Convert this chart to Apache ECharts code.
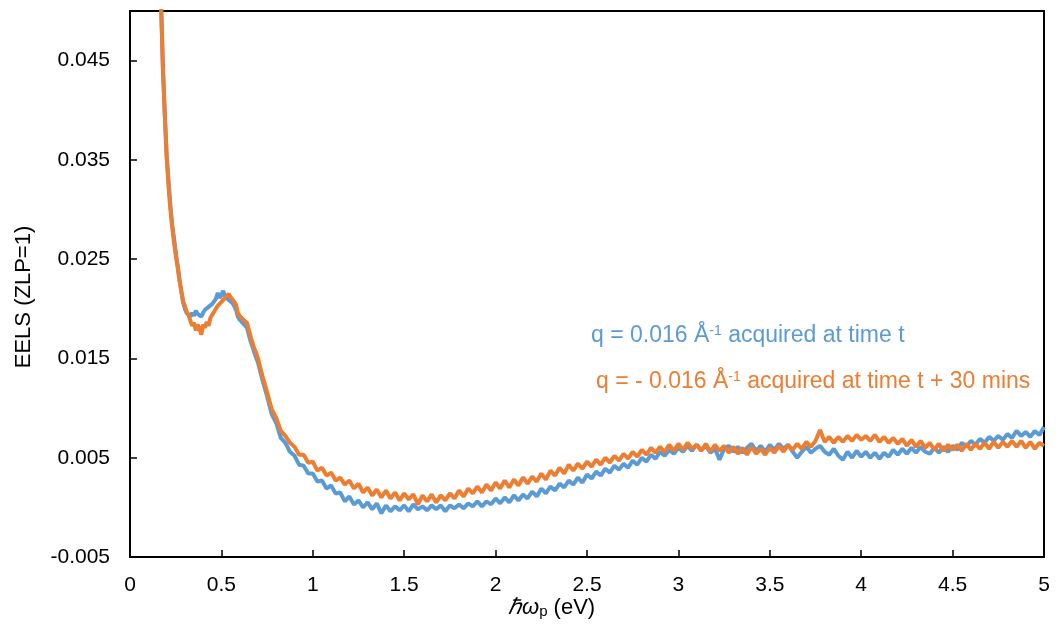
<!DOCTYPE html>
<html>
<head>
<meta charset="utf-8">
<script src="https://cdn.jsdelivr.net/npm/echarts@6/dist/echarts.min.js"></script>
<style>
  html, body { margin: 0; padding: 0; background: #fff; }
  #chart { width: 1059px; height: 635px; }
</style>
</head>
<body>
<div id="chart"></div>
<script>
// Energy loss (eV): 0.01 eV steps over the low-loss peak, 0.025 eV afterwards
const energy = [
  0.16, 0.17, 0.18, 0.19, 0.20, 0.21, 0.22, 0.23, 0.24, 0.25, 0.26, 0.27, 0.28, 0.29, 0.30,
  0.31, 0.32, 0.33, 0.34, 0.35, 0.36, 0.37, 0.38, 0.39, 0.40, 0.41, 0.42, 0.43, 0.44, 0.45,
  0.46, 0.47, 0.48, 0.49, 0.50, 0.51, 0.52, 0.53, 0.54, 0.55, 0.56, 0.57, 0.58, 0.59, 0.60,
  0.61, 0.62, 0.63, 0.64, 0.65, 0.66, 0.67, 0.68, 0.69, 0.70,
  0.725, 0.75, 0.775, 0.8, 0.825, 0.85, 0.875, 0.9, 0.925, 0.95, 0.975, 1.0,
  1.025, 1.05, 1.075, 1.1, 1.125, 1.15, 1.175, 1.2, 1.225, 1.25, 1.275, 1.3,
  1.325, 1.35, 1.375, 1.4, 1.425, 1.45, 1.475, 1.5, 1.525, 1.55, 1.575, 1.6,
  1.625, 1.65, 1.675, 1.7, 1.725, 1.75, 1.775, 1.8, 1.825, 1.85, 1.875, 1.9,
  1.925, 1.95, 1.975, 2.0, 2.025, 2.05, 2.075, 2.1, 2.125, 2.15, 2.175, 2.2,
  2.225, 2.25, 2.275, 2.3, 2.325, 2.35, 2.375, 2.4, 2.425, 2.45, 2.475, 2.5,
  2.525, 2.55, 2.575, 2.6, 2.625, 2.65, 2.675, 2.7, 2.725, 2.75, 2.775, 2.8,
  2.825, 2.85, 2.875, 2.9, 2.925, 2.95, 2.975, 3.0, 3.025, 3.05, 3.075, 3.1,
  3.125, 3.15, 3.175, 3.2, 3.225, 3.25, 3.275, 3.3, 3.325, 3.35, 3.375, 3.4,
  3.425, 3.45, 3.475, 3.5, 3.525, 3.55, 3.575, 3.6, 3.625, 3.65, 3.675, 3.7,
  3.725, 3.75, 3.775, 3.8, 3.825, 3.85, 3.875, 3.9, 3.925, 3.95, 3.975, 4.0,
  4.025, 4.05, 4.075, 4.1, 4.125, 4.15, 4.175, 4.2, 4.225, 4.25, 4.275, 4.3,
  4.325, 4.35, 4.375, 4.4, 4.425, 4.45, 4.475, 4.5, 4.525, 4.55, 4.575, 4.6,
  4.625, 4.65, 4.675, 4.7, 4.725, 4.75, 4.775, 4.8, 4.825, 4.85, 4.875, 4.9,
  4.925, 4.95, 4.975, 5.0
];

// q = 0.016 Å^-1, acquired at time t
const eelsT0 = [
  0.0585, 0.0508, 0.0444, 0.0399, 0.0357, 0.0330, 0.0306, 0.0286, 0.0272, 0.0258, 0.0244, 0.0231, 0.0218, 0.0207, 0.0200,
  0.0196, 0.0197, 0.0192, 0.0196, 0.0193, 0.0198, 0.0195, 0.0197, 0.0192, 0.0196, 0.0199, 0.0197, 0.0202, 0.0200, 0.0205,
  0.0204, 0.0210, 0.0216, 0.0211, 0.0214, 0.0218, 0.0212, 0.0214, 0.0209, 0.0210, 0.0206, 0.0203, 0.0199, 0.0192, 0.0189,
  0.0188, 0.0185, 0.0186, 0.0181, 0.0174, 0.0167, 0.0162, 0.0156, 0.0151, 0.0146,
  0.0128, 0.0112, 0.0094, 0.0085, 0.0070, 0.0065, 0.0056, 0.0052, 0.0043, 0.0042, 0.0034, 0.0034,
  0.0026, 0.0027, 0.0019, 0.0022, 0.0014, 0.0015, 0.0006, 0.0011, 0.0003, 0.0007, 0.0000, 0.0005,
  -0.0002, 0.0004, -0.0006, 0.0002, -0.0004, 0.0001, -0.0003, 0.0002, -0.0004, 0.0003, -0.0002, 0.0001,
  -0.0003, 0.0002, -0.0002, 0.0002, -0.0004, 0.0002, -0.0001, 0.0003, -0.0001, 0.0004, 0.0001, 0.0006,
  0.0001, 0.0006, 0.0003, 0.0009, 0.0004, 0.0010, 0.0005, 0.0012, 0.0007, 0.0013, 0.0009, 0.0016,
  0.0011, 0.0019, 0.0014, 0.0021, 0.0017, 0.0024, 0.0020, 0.0027, 0.0023, 0.0030, 0.0025, 0.0033,
  0.0029, 0.0036, 0.0032, 0.0039, 0.0035, 0.0042, 0.0038, 0.0044, 0.0040, 0.0047, 0.0043, 0.0050,
  0.0046, 0.0053, 0.0049, 0.0056, 0.0052, 0.0058, 0.0054, 0.0060, 0.0056, 0.0062, 0.0057, 0.0063,
  0.0058, 0.0062, 0.0055, 0.0059, 0.0048, 0.0059, 0.0062, 0.0056, 0.0061, 0.0055, 0.0060, 0.0064,
  0.0057, 0.0062, 0.0056, 0.0063, 0.0058, 0.0064, 0.0059, 0.0063, 0.0056, 0.0050, 0.0056, 0.0061,
  0.0055, 0.0059, 0.0062, 0.0056, 0.0053, 0.0059, 0.0052, 0.0048, 0.0056, 0.0050, 0.0057, 0.0051,
  0.0056, 0.0050, 0.0055, 0.0049, 0.0055, 0.0051, 0.0058, 0.0053, 0.0059, 0.0054, 0.0060, 0.0055,
  0.0061, 0.0056, 0.0054, 0.0060, 0.0055, 0.0061, 0.0056, 0.0062, 0.0058, 0.0065, 0.0061, 0.0067,
  0.0063, 0.0069, 0.0065, 0.0071, 0.0067, 0.0072, 0.0068, 0.0074, 0.0070, 0.0077, 0.0072, 0.0076,
  0.0071, 0.0077, 0.0073, 0.0081
];

// q = -0.016 Å^-1, acquired at time t + 30 mins
const eelsT30 = [
  0.0580, 0.0505, 0.0442, 0.0396, 0.0354, 0.0326, 0.0302, 0.0284, 0.0268, 0.0254, 0.0243, 0.0229, 0.0219, 0.0208, 0.0203,
  0.0197, 0.0194, 0.0188, 0.0183, 0.0186, 0.0178, 0.0184, 0.0180, 0.0174, 0.0184, 0.0181, 0.0187, 0.0183, 0.0191, 0.0189,
  0.0197, 0.0195, 0.0203, 0.0202, 0.0207, 0.0205, 0.0211, 0.0209, 0.0215, 0.0212, 0.0210, 0.0207, 0.0204, 0.0196, 0.0193,
  0.0191, 0.0189, 0.0190, 0.0186, 0.0179, 0.0172, 0.0166, 0.0160, 0.0156, 0.0150,
  0.0132, 0.0116, 0.0099, 0.0090, 0.0077, 0.0072, 0.0065, 0.0061, 0.0053, 0.0053, 0.0045, 0.0046,
  0.0037, 0.0040, 0.0032, 0.0035, 0.0027, 0.0030, 0.0023, 0.0027, 0.0019, 0.0024, 0.0015, 0.0020,
  0.0012, 0.0018, 0.0010, 0.0017, 0.0009, 0.0015, 0.0007, 0.0014, 0.0008, 0.0013, 0.0003, 0.0012,
  0.0006, 0.0013, 0.0005, 0.0012, 0.0007, 0.0014, 0.0009, 0.0017, 0.0011, 0.0019, 0.0014, 0.0021,
  0.0015, 0.0023, 0.0017, 0.0025, 0.0019, 0.0027, 0.0020, 0.0028, 0.0022, 0.0030, 0.0024, 0.0031,
  0.0026, 0.0034, 0.0028, 0.0037, 0.0032, 0.0040, 0.0034, 0.0043, 0.0037, 0.0044, 0.0039, 0.0046,
  0.0041, 0.0048, 0.0043, 0.0050, 0.0045, 0.0052, 0.0047, 0.0054, 0.0049, 0.0056, 0.0051, 0.0058,
  0.0053, 0.0060, 0.0055, 0.0061, 0.0056, 0.0063, 0.0057, 0.0064, 0.0058, 0.0065, 0.0059, 0.0063,
  0.0057, 0.0064, 0.0056, 0.0063, 0.0057, 0.0062, 0.0055, 0.0061, 0.0054, 0.0060, 0.0053, 0.0061,
  0.0054, 0.0059, 0.0053, 0.0060, 0.0055, 0.0062, 0.0056, 0.0063, 0.0058, 0.0064, 0.0059, 0.0066,
  0.0061, 0.0067, 0.0078, 0.0066, 0.0071, 0.0065, 0.0071, 0.0066, 0.0072, 0.0067, 0.0073, 0.0068,
  0.0072, 0.0067, 0.0073, 0.0066, 0.0071, 0.0065, 0.0070, 0.0064, 0.0069, 0.0062, 0.0068, 0.0061,
  0.0067, 0.0060, 0.0065, 0.0058, 0.0064, 0.0057, 0.0063, 0.0058, 0.0063, 0.0057, 0.0064, 0.0058,
  0.0064, 0.0059, 0.0065, 0.0059, 0.0066, 0.0060, 0.0066, 0.0061, 0.0067, 0.0061, 0.0067, 0.0060,
  0.0066, 0.0059, 0.0065, 0.0062
];

const xTicks = { min: 0, max: 5, interval: 0.5 };
const yTicks = { min: -0.005, max: 0.05, interval: 0.01 };

const BLUE = '#5B9BD5';
const ORANGE = '#ED7D31';
const FONT = '"Liberation Sans", Arial, sans-serif';

const chart = echarts.init(document.getElementById('chart'), null, { renderer: 'canvas' });

chart.setOption({
  animation: false,
  backgroundColor: '#ffffff',
  grid: {
    left: 130, right: 15, top: 11, bottom: 78,
    show: true, borderColor: '#000', borderWidth: 2, backgroundColor: 'transparent'
  },
  xAxis: {
    type: 'value',
    min: xTicks.min, max: xTicks.max, interval: xTicks.interval,
    axisLine: { show: true, onZero: false, lineStyle: { color: '#000', width: 2 } },
    axisTick: { show: true, inside: true, length: 7, lineStyle: { color: '#000', width: 1.5 } },
    splitLine: { show: false },
    axisLabel: { color: '#000', fontSize: 21, fontFamily: FONT, margin: 18 }
  },
  yAxis: {
    type: 'value',
    min: yTicks.min, max: yTicks.max, interval: yTicks.interval,
    axisLine: { show: true, onZero: false, lineStyle: { color: '#000', width: 2 } },
    axisTick: { show: true, inside: true, length: 7, lineStyle: { color: '#000', width: 1.5 } },
    splitLine: { show: false },
    axisLabel: {
      color: '#000', fontSize: 21, fontFamily: FONT, margin: 20,
      showMaxLabel: false,
      formatter: v => (Math.abs(v - yTicks.max) < 1e-9 ? '' : v.toFixed(3))
    }
  },
  series: [
    {
      name: 'q = 0.016 Å-1 acquired at time t',
      type: 'line',
      showSymbol: false,
      clip: true,
      lineStyle: { color: BLUE, width: 4 },
      data: energy.map((e, i) => [e, eelsT0[i]])
    },
    {
      name: 'q = - 0.016 Å-1 acquired at time t + 30 mins',
      type: 'line',
      showSymbol: false,
      clip: true,
      lineStyle: { color: ORANGE, width: 4 },
      data: energy.map((e, i) => [e, eelsT30[i]])
    }
  ],
  graphic: [
    {
      type: 'text', x: 24, y: 297, rotation: Math.PI / 2,
      style: {
        text: 'EELS (ZLP=1)', fill: '#000', font: '22px ' + FONT,
        textAlign: 'center', textVerticalAlign: 'middle'
      }
    },
    {
      type: 'text', x: 508, y: 608,
      style: {
        text: '{h|ℏω}{s|p}{n| (eV)}',
        textVerticalAlign: 'middle',
        rich: {
          h: { fontSize: 22, fontFamily: FONT, fontStyle: 'italic', fill: '#000', color: '#000' },
          s: { fontSize: 15, fontFamily: FONT, fill: '#000', color: '#000', verticalAlign: 'bottom', padding: [8, 0, 0, 0] },
          n: { fontSize: 22, fontFamily: FONT, fill: '#000', color: '#000' }
        }
      }
    },
    {
      type: 'text', x: 591, y: 336,
      style: {
        text: '{a|q = 0.016 Å}{s|-1}{a| acquired at time t}',
        textVerticalAlign: 'middle',
        rich: {
          a: { fontSize: 23, fontFamily: FONT, fill: BLUE, color: BLUE },
          s: { fontSize: 14, fontFamily: FONT, fill: BLUE, color: BLUE, verticalAlign: 'top', padding: [0, 0, 9, 0] }
        }
      }
    },
    {
      type: 'text', x: 596, y: 382,
      style: {
        text: '{a|q = - 0.016 Å}{s|-1}{a| acquired at time t + 30 mins}',
        textVerticalAlign: 'middle',
        rich: {
          a: { fontSize: 23, fontFamily: FONT, fill: ORANGE, color: ORANGE },
          s: { fontSize: 14, fontFamily: FONT, fill: ORANGE, color: ORANGE, verticalAlign: 'top', padding: [0, 0, 9, 0] }
        }
      }
    }
  ]
});
</script>
</body>
</html>
